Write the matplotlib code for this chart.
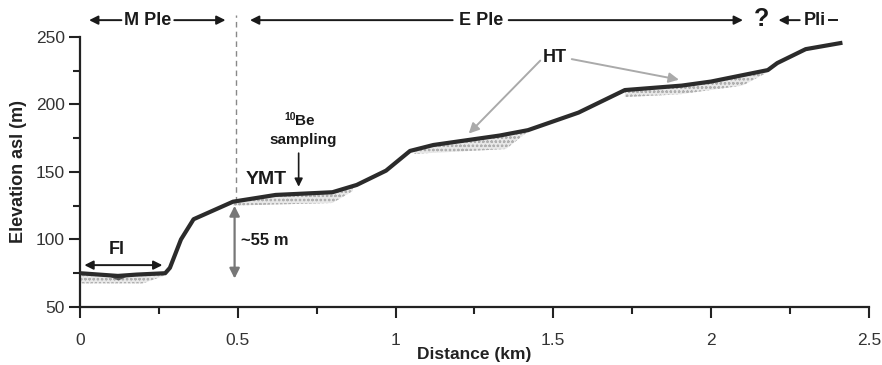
import numpy as np
import matplotlib.pyplot as plt
from matplotlib.ticker import MultipleLocator

plt.rcParams["font.family"] = ["Liberation Sans", "DejaVu Sans"]
plt.rcParams["hatch.linewidth"] = 0.6

# ── Data ──────────────────────────────────────────────────────────────────────
dist = [0.0, 0.06, 0.12, 0.18, 0.27, 0.285, 0.32, 0.36, 0.485, 0.62, 0.80, 0.877,
        0.97, 1.046, 1.12, 1.33, 1.42, 1.58, 1.727, 1.907, 2.0, 2.18, 2.21, 2.30, 2.41]
elev = [75, 74, 73, 74, 75, 79, 100, 115, 128, 133, 135, 140.4,
        151, 165.6, 170, 177, 181, 194, 210.7, 214, 217, 225.5, 230.7, 241, 245.5]

# deposit bases (x, bottom elevation) under each terrace tread
dep_fl_x = [0.0, 0.20, 0.265]
dep_fl_y = [67.5, 67.5, 73]
dep_ymt_x = [0.485, 0.55, 0.80, 0.865]
dep_ymt_y = [125, 125.5, 127, 136]
dep_ht1_x = [1.06, 1.15, 1.35, 1.42]
dep_ht1_y = [163.5, 164.5, 167, 180]
dep_ht2_x = [1.727, 1.90, 2.10, 2.18]
dep_ht2_y = [205.5, 207.5, 214, 224]

xticks = [0, 0.5, 1, 1.5, 2, 2.5]
xticklabels = ["0", "0.5", "1", "1.5", "2", "2.5"]
yticks = [50, 100, 150, 200, 250]

# ── Chart ─────────────────────────────────────────────────────────────────────
fig = plt.figure(figsize=(8.82, 3.65), dpi=100)
ax = fig.add_axes([0.0907, 0.159, 0.8943, 0.7396])

# hatched deposits
for dx, dy in [(dep_fl_x, dep_fl_y), (dep_ymt_x, dep_ymt_y),
               (dep_ht1_x, dep_ht1_y), (dep_ht2_x, dep_ht2_y)]:
    xs = np.linspace(dx[0], dx[-1], 60)
    top = np.interp(xs, dist, elev)
    bot = np.interp(xs, dx, dy)
    ax.fill_between(xs, bot, top, facecolor="#e8e8e8", edgecolor="#b0b0b0",
                    hatch="oooo", linewidth=0, zorder=2)

# river channel
ch_x = np.linspace(0.095, 0.145, 20)
ax.fill_between(ch_x, np.interp(ch_x, [0.095, 0.12, 0.145], [73.2, 70.5, 73.2]),
                np.interp(ch_x, dist, elev), color="#5a5a5a", zorder=3)

ax.plot(dist, elev, color="#2b2b2b", lw=3, solid_joinstyle="round", zorder=4)

ax.set_xlim(0, 2.5)
ax.set_ylim(50, 250)
ax.set_xticks(xticks)
ax.set_xticklabels(xticklabels)
ax.set_yticks(yticks)
ax.xaxis.set_minor_locator(MultipleLocator(0.25))
ax.yaxis.set_minor_locator(MultipleLocator(25))
ax.tick_params(which="both", direction="out", width=1.5, colors="#222222",
               labelsize=12.5, labelcolor="#333333")
ax.tick_params(which="major", length=8)
ax.tick_params(which="minor", length=5)
ax.tick_params(axis="x", pad=11)
ax.tick_params(axis="y", pad=3)
for s in ["top", "right"]:
    ax.spines[s].set_visible(False)
for s in ["left", "bottom"]:
    ax.spines[s].set_linewidth(1.6)
    ax.spines[s].set_color("#222222")
ax.set_xlabel("Distance (km)", fontsize=12.5, fontweight="bold", labelpad=-1, color="#222222")
ax.set_ylabel("Elevation asl (m)", fontsize=13, fontweight="bold", labelpad=6, color="#222222")

# ── Annotations ───────────────────────────────────────────────────────────────
ytop = 262.5
arr = dict(arrowstyle="-|>", color="#1a1a1a", lw=1.4, mutation_scale=13)
def top_arrow(x0, x1):
    ax.annotate("", xy=(x1, ytop), xytext=(x0, ytop), arrowprops=arr,
                annotation_clip=False)

txt = dict(fontsize=13, fontweight="bold", ha="center", va="center",
           color="#1a1a1a", clip_on=False)
ax.text(0.215, ytop, "M Ple", **txt)
top_arrow(0.14, 0.02)
top_arrow(0.29, 0.47)
ax.plot([0.494, 0.494], [128, 266], ls=(0, (4, 3)), color="#888888", lw=1,
        clip_on=False, zorder=1)
ax.text(1.27, ytop, "E Ple", **txt)
top_arrow(1.19, 0.53)
top_arrow(1.35, 2.11)
ax.text(2.16, ytop + 1, "?", fontsize=18, fontweight="bold", ha="center",
        va="center", color="#1a1a1a", clip_on=False)
top_arrow(2.29, 2.205)
ax.text(2.33, ytop, "Pli", **txt)
ax.plot([2.375, 2.40], [ytop, ytop], color="#1a1a1a", lw=1.4, clip_on=False)

# FI
ax.annotate("", xy=(0.005, 81), xytext=(0.27, 81),
            arrowprops=dict(arrowstyle="<|-|>", color="#1a1a1a", lw=1.4, mutation_scale=13))
ax.text(0.115, 92.5, "Fl", fontsize=13, fontweight="bold", ha="center", va="center",
        color="#1a1a1a")

# ~55 m
ax.annotate("", xy=(0.49, 127), xytext=(0.49, 69),
            arrowprops=dict(arrowstyle="<|-|>", color="#777777", lw=1.6, mutation_scale=15))
ax.text(0.51, 99.5, "~55 m", fontsize=12, fontweight="bold", ha="left", va="center",
        color="#1a1a1a")

# YMT and 10Be sampling
ax.text(0.59, 144.5, "YMT", fontsize=14, fontweight="bold", ha="center", va="center",
        color="#1a1a1a")
ax.text(0.683, 187, "10", fontsize=7.5, fontweight="bold", ha="right", va="bottom",
        color="#1a1a1a")
ax.text(0.683, 182.5, "Be", fontsize=11, fontweight="bold", ha="left", va="bottom",
        color="#1a1a1a")
ax.text(0.707, 174, "sampling", fontsize=11, fontweight="bold", ha="center",
        va="center", color="#1a1a1a")
ax.annotate("", xy=(0.693, 137), xytext=(0.693, 166),
            arrowprops=dict(arrowstyle="-|>", color="#1a1a1a", lw=1.2, mutation_scale=12))

# HT
ax.text(1.505, 235, "HT", fontsize=13, fontweight="bold", ha="center", va="center",
        color="#1a1a1a")
ht_arr = dict(arrowstyle="-|>", color="#aaaaaa", lw=1.4, mutation_scale=15)
ax.annotate("", xy=(1.226, 177), xytext=(1.465, 234), arrowprops=ht_arr)
ax.annotate("", xy=(1.907, 218), xytext=(1.55, 234), arrowprops=ht_arr)

fig.savefig("out.png", dpi=100)
